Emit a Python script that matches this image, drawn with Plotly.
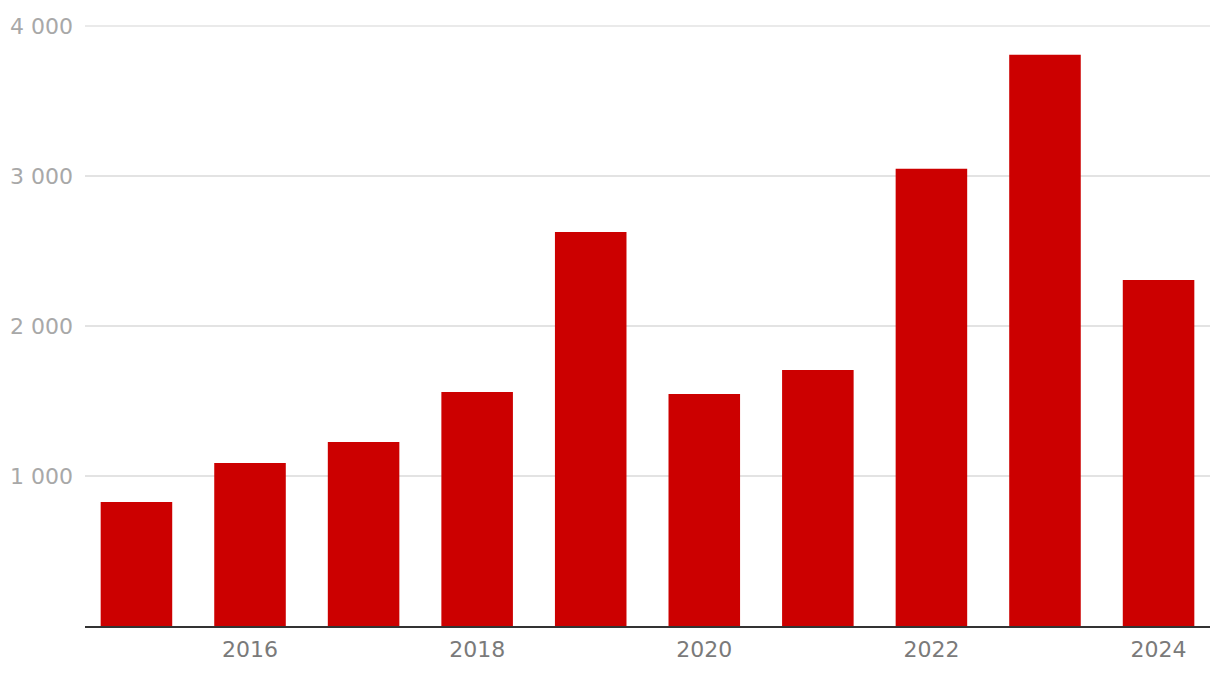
import plotly.graph_objects as go

years = [2015, 2016, 2017, 2018, 2019, 2020, 2021, 2022, 2023, 2024]
values = [827, 1087, 1227, 1560, 2627, 1547, 1707, 3047, 3807, 2307]
y_ticks = [1000, 2000, 3000, 4000]
x_ticks = [2016, 2018, 2020, 2022, 2024]

fig = go.Figure(go.Bar(x=years, y=values, marker=dict(color="#cc0000", line=dict(width=0)),
                       width=0.63))

fig.update_layout(
    width=1220, height=680,
    margin=dict(l=77, r=18, t=17, b=62),
    plot_bgcolor="white", paper_bgcolor="white",
    separators=", ",
    font=dict(family="DejaVu Sans, sans-serif", size=21, color="#999999"),
    showlegend=False,
    xaxis=dict(range=[2014.547, 2024.453], tickvals=x_ticks, ticktext=[str(t) for t in x_ticks],
               showgrid=False, showline=True, linecolor="#333333", linewidth=2,
               ticks="", tickfont=dict(color="#7a7a7a", size=22), zeroline=False,
               ticklabelstandoff=3, automargin=False),
    yaxis=dict(range=[0, 4006], tickvals=y_ticks, tickformat=",d",
               showgrid=True, gridcolor="#e3e3e3", gridwidth=1.5, zeroline=False,
               ticks="", ticklabelstandoff=11, tickfont=dict(color="#a8a8a8", size=22),
               automargin=False),
)

# top gridline (Plotly drops gridlines at the plot edge)
fig.add_shape(type="line", xref="paper", yref="y", x0=0, x1=1, y0=y_ticks[-1], y1=y_ticks[-1],
              line=dict(color="#e3e3e3", width=1.5), layer="below")

fig.write_html("out.html")
